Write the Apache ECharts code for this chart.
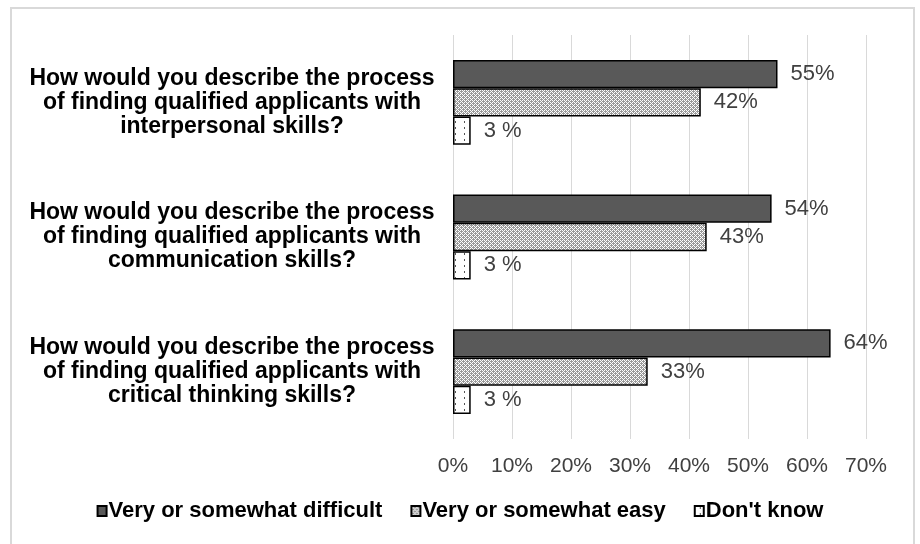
<!DOCTYPE html>
<html>
<head>
<meta charset="utf-8">
<script src="https://cdn.jsdelivr.net/npm/echarts@6/dist/echarts.min.js"></script>
<style>
  html, body { margin: 0; padding: 0; background: #fff; }
  #chart { width: 920px; height: 544px; }
</style>
</head>
<body>
<div id="chart"></div>
<script>
const categories = [
  'How would you describe the process\nof finding qualified applicants with\ninterpersonal skills?',
  'How would you describe the process\nof finding qualified applicants with\ncommunication skills?',
  'How would you describe the process\nof finding qualified applicants with\ncritical thinking skills?'
]
const seriesNames = ['Very or somewhat difficult', 'Very or somewhat easy', "Don't know"]
const difficultValues = [55, 54, 64]
const easyValues = [42, 43, 33]
const dontKnowValues = [3, 3, 3]
const tickLabels = ['0%', '10%', '20%', '30%', '40%', '50%', '60%', '70%']

const FONT = '"Liberation Sans", Arial, sans-serif'

// stippled gray fill for "easy"
const makeStipple = () => {
  const c = document.createElement('canvas')
  c.width = 4
  c.height = 4
  const ctx = c.getContext('2d')
  ctx.fillStyle = '#9a9a9a'
  ctx.fillRect(0, 0, 4, 4)
  ctx.fillStyle = '#ffffff'
  ctx.fillRect(0, 0, 1, 1)
  ctx.fillRect(2, 0, 1, 1)
  ctx.fillRect(0, 2, 1, 1)
  ctx.fillRect(2, 2, 1, 1)
  ctx.fillRect(1, 1, 1, 1)
  ctx.fillRect(3, 3, 1, 1)
  return c
}

// white with sparse dots for "don't know"
const makeDots = () => {
  const c = document.createElement('canvas')
  c.width = 9
  c.height = 6
  const ctx = c.getContext('2d')
  ctx.fillStyle = '#ffffff'
  ctx.fillRect(0, 0, 9, 6)
  ctx.fillStyle = '#555555'
  ctx.fillRect(5, 1, 1, 2)
  return c
}

const chart = echarts.init(document.getElementById('chart'))

const barSeries = (name, data, color, labelFmt) => ({
  name,
  type: 'bar',
  data,
  barGap: '0%',
  barCategoryGap: '37%',
  itemStyle: { color, borderColor: '#000', borderWidth: 1.5 },
  label: {
    show: true,
    position: 'right',
    distance: 13,
    formatter: labelFmt,
    fontFamily: FONT,
    fontSize: 22,
    color: '#404040'
  }
})

chart.setOption({
  animation: false,
  textStyle: { fontFamily: FONT },
  grid: { left: 453, right: 54, top: 35, bottom: 105 },
  xAxis: {
    type: 'value',
    min: 0,
    max: 70,
    interval: 10,
    axisLine: { show: false },
    axisTick: { show: false },
    splitLine: { lineStyle: { color: '#d9d9d9', width: 1 } },
    axisLabel: {
      margin: 17,
      fontSize: 21,
      color: '#404040',
      fontFamily: FONT,
      formatter: (v) => tickLabels[Math.round(v / 10)]
    }
  },
  yAxis: {
    type: 'category',
    inverse: true,
    data: categories,
    axisLine: { show: false },
    axisTick: { show: false },
    axisLabel: {
      align: 'center',
      margin: 221,
      fontSize: 23,
      fontWeight: 'bold',
      lineHeight: 24,
      color: '#000',
      fontFamily: FONT
    }
  },
  legend: {
    bottom: 17,
    left: 'center',
    itemWidth: 9,
    itemHeight: 10,
    itemGap: 28,
    icon: 'rect',
    textStyle: { fontSize: 22, fontWeight: 'bold', color: '#000', fontFamily: FONT, padding: [0, 0, 0, -3] },
    data: seriesNames
  },
  graphic: [{
    type: 'rect',
    shape: { x: 11, y: 8, width: 903, height: 560 },
    style: { fill: 'none', stroke: '#d9d9d9', lineWidth: 2 },
    silent: true
  }],
  series: [
    barSeries(seriesNames[0], difficultValues, '#595959', '{c}%'),
    barSeries(seriesNames[1], easyValues, { image: makeStipple(), repeat: 'repeat' }, '{c}%'),
    barSeries(seriesNames[2], dontKnowValues, { image: makeDots(), repeat: 'repeat' }, '{c} %')
  ]
})
</script>
</body>
</html>
